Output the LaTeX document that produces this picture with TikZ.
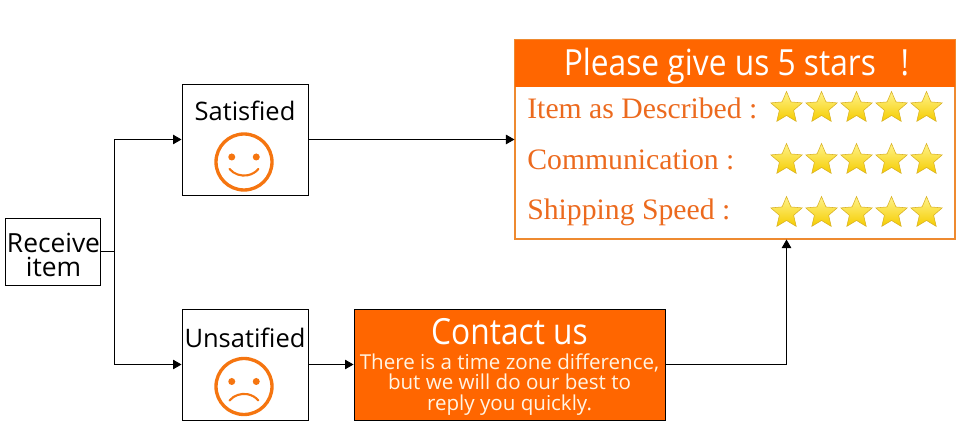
\documentclass[tikz,border=0pt]{standalone}
\usepackage{fontspec}
\usepackage{xcolor}
\setmainfont{Open Sans}
\newfontfamily\ratefont{Liberation Serif}
\newfontfamily\headfont[FakeStretch=0.88]{Open Sans}
\usetikzlibrary{arrows.meta,positioning,shapes.geometric,calc}
\definecolor{rateorange}{HTML}{FF6600}
\definecolor{ratetext}{HTML}{EC6A1E}
\definecolor{rateedge}{HTML}{EE8A30}
\definecolor{faceorange}{HTML}{F57510}
\definecolor{starhi}{HTML}{FFF38A}
\definecolor{starlo}{HTML}{F5CC00}
\definecolor{stardark}{HTML}{D8B020}
\definecolor{softwhite}{HTML}{FFF4E4}
\tikzset{
  box/.style={draw=black,line width=0.55pt,inner sep=0pt,minimum width=2.52cm,minimum height=2.22cm},
  rcvbox/.style={box,minimum width=1.9cm,minimum height=1.34cm},
  lbl/.style={inner sep=0pt,font=\fontsize{14.5}{13.6}\selectfont,align=center},
  face/.style={circle,draw=faceorange,line width=1.9pt,inner sep=0pt,minimum size=1.12cm},
  ratelbl/.style={anchor=west,inner sep=0pt,text=ratetext,font=\ratefont\fontsize{16.9}{18}\selectfont},
  starnode/.style={star,star points=5,star point ratio=2.2,draw=stardark,line width=0.3pt,inner sep=0pt,minimum size=0.66cm,top color=starhi,bottom color=starlo},
  ar/.style={-{Triangle[length=1.7mm,width=1.9mm]},draw=black,line width=0.55pt},
}
\begin{document}
\begin{tikzpicture}
  \useasboundingbox (0,0) rectangle (19.2,8.64);
  \node[rcvbox] (rcv) at (1.05,3.61) {};
  \node[lbl,font=\fontsize{15}{13.6}\selectfont] (rcvlbl) at (1.07,3.54) {Receive\\item};
  \node[box] (sat) at (4.9,5.85) {};
  \node[box] (unsat) at (4.9,1.35) {};
  \node[lbl] (satlbl) at (4.9,6.42) {Satisfied};
  \node[lbl] (unsatlbl) at (4.9,1.89) {Unsatified};
  % faces
  \node[face] (happy) at (4.88,5.40) {};
  \node[face] (sad) at (4.88,0.91) {};
  \fill[faceorange] ($(happy)+(-0.245,0.1)$) circle (0.07) ($(happy)+(0.245,0.1)$) circle (0.07);
  \fill[faceorange] ($(sad)+(-0.245,0.1)$) circle (0.07) ($(sad)+(0.245,0.1)$) circle (0.07);
  \draw[faceorange,line width=1.2pt,line cap=round] ($(happy)+(-0.29,-0.14)$) arc[start angle=221,end angle=319,radius=0.384];
  \draw[faceorange,line width=1.2pt,line cap=round] ($(sad)+(-0.29,-0.28)$) arc[start angle=139,end angle=41,radius=0.384];
  % contact box
  \node[box,fill=rateorange,minimum width=6.22cm] (con) at (10.19,1.35) {};
  \node[lbl,text=white,font=\headfont\fontsize{20.5}{20}\selectfont] (conhead) at (10.19,2.0) {Contact us};
  \node[lbl,text=softwhite,font=\fontsize{11.7}{11.6}\selectfont] (conbody) at (10.19,0.95) {There is a time zone difference,\\but we will do our best to\\reply you quickly.};
  % rating panel
  \node[draw=rateedge,line width=0.6pt,inner sep=0pt,minimum width=8.8cm,minimum height=3.98cm] (panel) at (14.7,5.85) {};
  \node[fill=rateorange,inner sep=0pt,minimum width=8.8cm,minimum height=0.94cm] (panelhead) at (14.7,7.37) {};
  \node[lbl,text=white,font=\headfont\fontsize{20.5}{20}\selectfont] (paneltitle) at (14.73,7.32) {Please give us 5 stars\ \ \ !};
  \node[ratelbl] (item) at (10.54,6.47) {Item as Described :};
  \node[ratelbl] (comm) at (10.54,5.44) {Communication :};
  \node[ratelbl] (ship) at (10.54,4.40) {Shipping Speed :};
  \foreach \y/\r in {6.48/a,5.44/b,4.38/c} {
    \foreach \x/\c in {15.73/1,16.43/2,17.13/3,17.83/4,18.53/5} {
      \node[starnode] (s\r\c) at (\x,\y) {};
    }
  }
  % connectors
  \draw[ar] (rcv.east) -- ++(0.28,0) coordinate (fork) |- (sat.west);
  \draw[ar] (fork) |- (unsat.west);
  \draw[ar] (sat.east) -- (panel.west);
  \draw[ar] (unsat.east) -- (con.west);
  \draw[ar] (con.east) -| (panel.south -| sc1);
\end{tikzpicture}
\end{document}
